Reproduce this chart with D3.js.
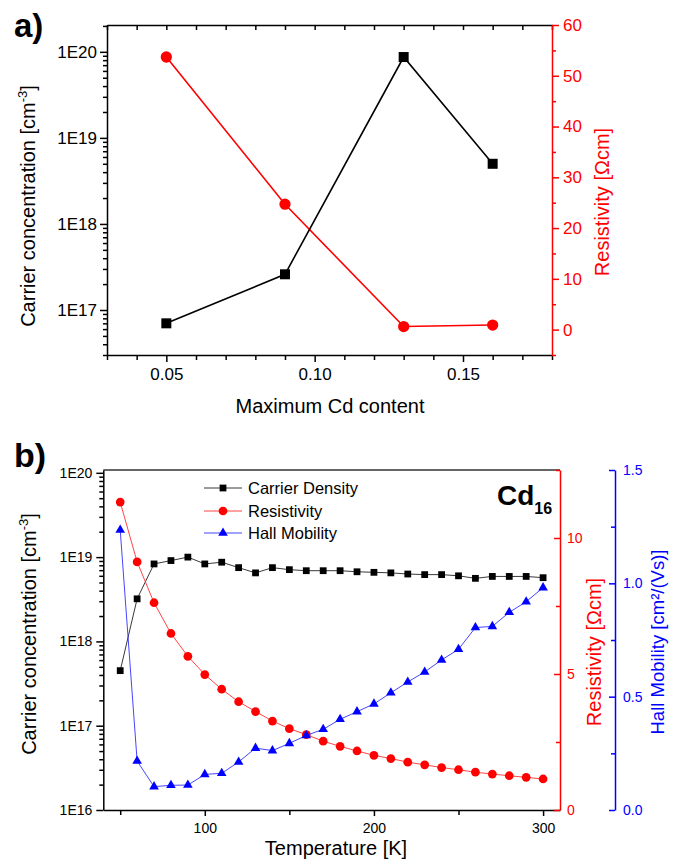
<!DOCTYPE html>
<html><head><meta charset="utf-8">
<script src="https://cdn.jsdelivr.net/npm/d3@7"></script>
<style>
html,body{margin:0;padding:0;background:#fff;}
svg{display:block;}
</style></head><body>
<svg id="chart" width="678" height="862"></svg>
<script>
// ---------- data: panel a ----------
const cdContent = [0.05, 0.09, 0.13, 0.16];
const cdCarrier = [7.0e16, 2.6e17, 8.7e19, 5.0e18];
const cdResistivity = [53.7, 24.7, 0.6, 0.9];
const aXTickLabels = [0.05, 0.10, 0.15];
const aLogTickLabels = ["1E17", "1E18", "1E19", "1E20"];
const aRightTicks = [0, 10, 20, 30, 40, 50, 60];

// ---------- data: panel b ----------
const temperature = [50, 60, 70, 80, 90, 100, 110, 120, 130, 140, 150, 160, 170, 180, 190, 200, 210, 220, 230, 240, 250, 260, 270, 280, 290, 300];
const tCarrier = [4.5e17, 3.2e18, 8.3e18, 9.1e18, 1.0e19, 8.3e18, 8.7e18, 7.5e18, 6.5e18, 7.5e18, 7.1e18, 6.9e18, 6.9e18, 6.9e18, 6.7e18, 6.6e18, 6.5e18, 6.3e18, 6.2e18, 6.2e18, 6.0e18, 5.6e18, 5.9e18, 5.9e18, 5.9e18, 5.7e18];
const tResistivity = [11.32, 9.12, 7.62, 6.49, 5.65, 4.98, 4.44, 3.98, 3.62, 3.27, 2.99, 2.77, 2.53, 2.34, 2.17, 2.01, 1.89, 1.76, 1.66, 1.56, 1.48, 1.39, 1.32, 1.26, 1.20, 1.14];
const tMobility = [1.235, 0.216, 0.103, 0.109, 0.110, 0.157, 0.162, 0.212, 0.273, 0.262, 0.294, 0.329, 0.356, 0.40, 0.434, 0.468, 0.517, 0.565, 0.609, 0.662, 0.709, 0.805, 0.81, 0.872, 0.919, 0.981];
const bXTicks = [100, 200, 300];
const bXMinor = [50, 150, 250];
const bLogTickLabels = ["1E16", "1E17", "1E18", "1E19", "1E20"];
const bRedTicks = [0, 5, 10];
const bRedMinor = [2.5, 7.5, 12.5];
const bBlueTicks = [0.0, 0.5, 1.0, 1.5];
const bBlueMinor = [0.25, 0.75, 1.25];
const legendNames = ["Carrier Density", "Resistivity", "Hall Mobility"];

const FONT = '"Liberation Sans", Arial, Helvetica, sans-serif';
const RED = "#ff0000", BLUE = "#0000ff", BLACK = "#000000";
const svg = d3.select("#chart").attr("font-family", FONT);

function styleAxis(g, color, size, width) {
  g.attr("font-family", FONT).attr("font-size", size);
  g.select(".domain").attr("stroke", color).attr("stroke-width", width);
  g.selectAll(".tick line").attr("stroke", color).attr("stroke-width", width);
  g.selectAll(".tick text").attr("fill", color);
  return g;
}
function minorAxis(g, color, width) {
  g.select(".domain").remove();
  g.selectAll(".tick text").remove();
  g.selectAll(".tick line").attr("stroke", color).attr("stroke-width", width);
}
function logMinors(lo, hi) {
  const out = [];
  for (let e = Math.floor(Math.log10(lo)); e <= Math.ceil(Math.log10(hi)); e++)
    for (let m = 2; m <= 9; m++) { const v = m * Math.pow(10, e); if (v >= lo && v <= hi) out.push(v); }
  return out;
}
function supLabel(sel, parts) {
  parts.forEach(p => {
    const t = sel.append("tspan").text(p.t);
    if (p.size) t.attr("font-size", p.size);
    if (p.dy) t.attr("dy", p.dy);
  });
}

// ================= PANEL A =================
(function () {
  const L = 107, R = 552, T = 25, B = 355;
  const x = d3.scaleLinear().domain([0.03, 0.18]).range([L, R]);
  const yL = d3.scaleLog().domain([3e16, 2.05e20]).range([B, T]);
  const yR = d3.scaleLinear().domain([-5, 60]).range([B, T]);
  const g = svg.append("g");
  const allX = d3.range(3, 19).map(i => i / 100);
  const minorX = allX.filter(v => !aXTickLabels.some(m => Math.abs(m - v) < 1e-9));

  // bottom axis
  g.append("g").attr("transform", `translate(0,${B})`)
    .call(d3.axisBottom(x).tickValues(minorX).tickSize(5).tickFormat(""))
    .call(s => minorAxis(s, BLACK, 1.5));
  g.append("g").attr("transform", `translate(0,${B})`)
    .call(d3.axisBottom(x).tickValues(aXTickLabels).tickSize(7).tickSizeOuter(0).tickPadding(6).tickFormat(d3.format(".2f")))
    .call(s => styleAxis(s, BLACK, 17, 1.5));
  // top axis (inward ticks)
  g.append("g").attr("transform", `translate(0,${T})`)
    .call(d3.axisTop(x).tickValues(allX).tickSize(-5).tickSizeOuter(0).tickFormat(""))
    .call(s => styleAxis(s, BLACK, 17, 1.5));
  // left log axis
  const majY = aLogTickLabels.map(s => +s);
  g.append("g").attr("transform", `translate(${L},0)`)
    .call(d3.axisLeft(yL).tickValues(logMinors(3e16, 2.05e20)).tickSize(4).tickFormat(""))
    .call(s => minorAxis(s, BLACK, 1.5));
  g.append("g").attr("transform", `translate(${L},0)`)
    .call(d3.axisLeft(yL).tickValues(majY).tickSize(7).tickSizeOuter(0).tickPadding(3)
      .tickFormat((d, i) => aLogTickLabels[i]))
    .call(s => styleAxis(s, BLACK, 17, 1.5));
  // right red axis
  g.append("g").attr("transform", `translate(${R},0)`)
    .call(d3.axisRight(yR).tickValues(d3.range(-5, 61, 10)).tickSize(4).tickFormat(""))
    .call(s => minorAxis(s, RED, 1.5));
  g.append("g").attr("transform", `translate(${R},0)`)
    .call(d3.axisRight(yR).tickValues(aRightTicks).tickSize(7).tickSizeOuter(0).tickPadding(4).tickFormat(d3.format("d")))
    .call(s => styleAxis(s, RED, 17, 1.5));

  // series
  const lineR = d3.line().x((d, i) => x(cdContent[i])).y(d => yR(d));
  const lineC = d3.line().x((d, i) => x(cdContent[i])).y(d => yL(d));
  g.append("path").attr("d", lineR(cdResistivity)).attr("fill", "none").attr("stroke", RED).attr("stroke-width", 1.6);
  g.append("path").attr("d", lineC(cdCarrier)).attr("fill", "none").attr("stroke", BLACK).attr("stroke-width", 1.6);
  g.selectAll(".ra").data(cdResistivity).join("path")
    .attr("d", d3.symbol(d3.symbolCircle, 100)())
    .attr("transform", (d, i) => `translate(${x(cdContent[i])},${yR(d)})`).attr("fill", RED);
  g.selectAll(".ca").data(cdCarrier).join("path")
    .attr("d", d3.symbol(d3.symbolSquare, 100)())
    .attr("transform", (d, i) => `translate(${x(cdContent[i])},${yL(d)})`).attr("fill", BLACK);

  // labels
  svg.append("text").attr("x", 14).attr("y", 37).attr("font-size", 33).attr("font-weight", "bold").text("a)");
  const yl = svg.append("text").attr("transform", "translate(35,206) rotate(-90)")
    .attr("text-anchor", "middle").attr("font-size", 20);
  supLabel(yl, [{ t: "Carrier concentration [cm" }, { t: "-3", size: 13, dy: -8 }, { t: "]", dy: 8 }]);
  svg.append("text").attr("transform", "translate(609,202) rotate(-90)")
    .attr("text-anchor", "middle").attr("font-size", 20).attr("fill", RED).text("Resistivity [Ωcm]");
  svg.append("text").attr("x", 330).attr("y", 413).attr("text-anchor", "middle").attr("font-size", 20).text("Maximum Cd content");
})();

// ================= PANEL B =================
(function () {
  const L = 103.3, R = 560, T = 470, B = 810, RB = 615;
  const x = d3.scaleLinear().domain([40, 310]).range([L, R]);
  const yL = d3.scaleLog().domain([1e16, 1.08e20]).range([B, T]);
  const yR = d3.scaleLinear().domain([0, 12.5]).range([B, T]);
  const yM = d3.scaleLinear().domain([0, 1.5]).range([B, T]);
  const g = svg.append("g");

  // top border
  g.append("line").attr("x1", L).attr("x2", R).attr("y1", T).attr("y2", T).attr("stroke", "#333").attr("stroke-width", 1.5);
  // bottom axis
  g.append("g").attr("transform", `translate(0,${B})`)
    .call(d3.axisBottom(x).tickValues(bXMinor).tickSize(5).tickFormat(""))
    .call(s => minorAxis(s, BLACK, 1.5));
  g.append("g").attr("transform", `translate(0,${B})`)
    .call(d3.axisBottom(x).tickValues(bXTicks).tickSize(6).tickSizeOuter(0).tickPadding(7).tickFormat(d3.format("d")))
    .call(s => styleAxis(s, BLACK, 14, 1.5));
  // left log axis
  const majY = bLogTickLabels.map(s => +s);
  g.append("g").attr("transform", `translate(${L},0)`)
    .call(d3.axisLeft(yL).tickValues(logMinors(1e16, 1.08e20)).tickSize(4).tickFormat(""))
    .call(s => minorAxis(s, BLACK, 1.5));
  g.append("g").attr("transform", `translate(${L},0)`)
    .call(d3.axisLeft(yL).tickValues(majY).tickSize(7).tickSizeOuter(0).tickPadding(4)
      .tickFormat((d, i) => bLogTickLabels[i]))
    .call(s => styleAxis(s, BLACK, 14, 1.5));
  // red axis (inward ticks)
  g.append("g").attr("transform", `translate(${R},0)`)
    .call(d3.axisRight(yR).tickValues(bRedMinor).tickSize(-4).tickFormat(""))
    .call(s => minorAxis(s, RED, 1.5));
  g.append("g").attr("transform", `translate(${R},0)`)
    .call(d3.axisRight(yR).tickValues(bRedTicks).tickSize(-6).tickSizeOuter(0).tickPadding(7).tickFormat(d3.format("d")))
    .call(s => styleAxis(s, RED, 14, 1.5));
  // blue axis (inward ticks)
  g.append("g").attr("transform", `translate(${RB},0)`)
    .call(d3.axisRight(yM).tickValues(bBlueMinor).tickSize(-4).tickFormat(""))
    .call(s => minorAxis(s, BLUE, 1.5));
  g.append("g").attr("transform", `translate(${RB},0)`)
    .call(d3.axisRight(yM).tickValues(bBlueTicks).tickSize(-6).tickSizeOuter(0).tickPadding(8).tickFormat(d3.format(".1f")))
    .call(s => styleAxis(s, BLUE, 14, 1.5));

  // series
  const series = [
    { vals: tCarrier, y: yL, color: BLACK, sym: d3.symbolSquare, size: 46, lc: "#222" },
    { vals: tResistivity, y: yR, color: RED, sym: d3.symbolCircle, size: 60, lc: "#ff3030" },
    { vals: tMobility, y: yM, color: BLUE, sym: d3.symbolTriangle, size: 40, lc: "#3030ff" }
  ];
  series.forEach(s => {
    const ln = d3.line().x((d, i) => x(temperature[i])).y(d => s.y(d));
    g.append("path").attr("d", ln(s.vals)).attr("fill", "none").attr("stroke", s.lc).attr("stroke-width", 0.9);
    g.append("g").selectAll("path").data(s.vals).join("path")
      .attr("d", d3.symbol(s.sym, s.size)())
      .attr("transform", (d, i) => `translate(${x(temperature[i])},${s.y(d)})`)
      .attr("fill", s.color);
  });

  // legend
  const legY = [488, 511, 533];
  legendNames.forEach((name, i) => {
    const s = series[i];
    g.append("line").attr("x1", 204).attr("x2", 242).attr("y1", legY[i]).attr("y2", legY[i])
      .attr("stroke", s.lc).attr("stroke-width", 0.9);
    g.append("path").attr("d", d3.symbol(s.sym, s.size)()).attr("transform", `translate(223,${legY[i]})`).attr("fill", s.color);
    g.append("text").attr("x", 248).attr("y", legY[i] + 6).attr("font-size", 16.5).text(name);
  });

  // Cd16
  const cd = svg.append("text").attr("x", 497).attr("y", 505).attr("font-weight", "bold").attr("font-size", 28);
  supLabel(cd, [{ t: "Cd" }, { t: "16", size: 16, dy: 9 }]);

  // labels
  svg.append("text").attr("x", 14).attr("y", 467).attr("font-size", 34).attr("font-weight", "bold").text("b)");
  const yl = svg.append("text").attr("transform", "translate(36,634) rotate(-90)")
    .attr("text-anchor", "middle").attr("font-size", 20);
  supLabel(yl, [{ t: "Carrier concentration [cm" }, { t: "-3", size: 13, dy: -8 }, { t: "]", dy: 8 }]);
  svg.append("text").attr("x", 336).attr("y", 855).attr("text-anchor", "middle").attr("font-size", 20).text("Temperature [K]");
  svg.append("text").attr("transform", "translate(601,652) rotate(-90)")
    .attr("text-anchor", "middle").attr("font-size", 20).attr("fill", RED).text("Resistivity [Ωcm]");
  svg.append("text").attr("transform", "translate(664,642) rotate(-90)")
    .attr("text-anchor", "middle").attr("font-size", 18.5).attr("fill", BLUE).text("Hall Mobility [cm²/(Vs)]");
})();
</script>
</body></html>
